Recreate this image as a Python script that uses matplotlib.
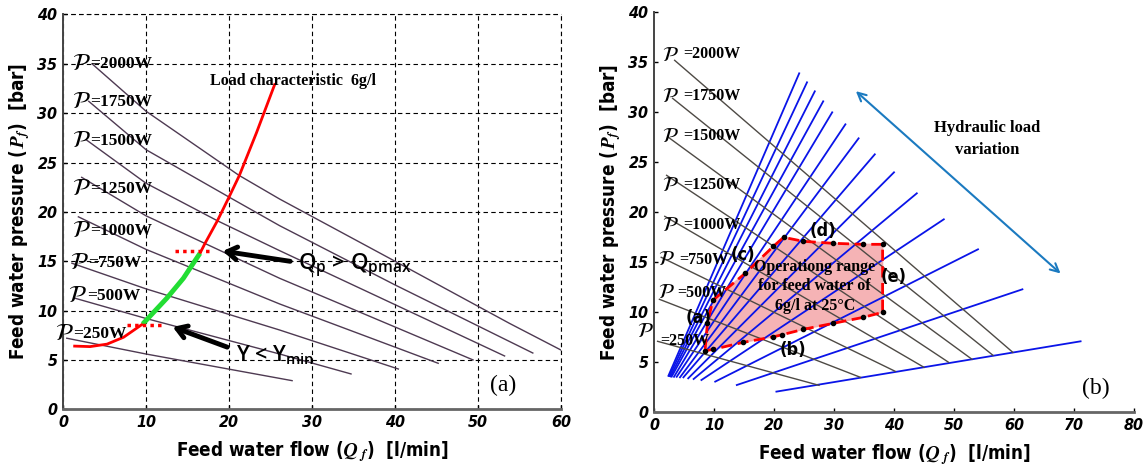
import matplotlib
matplotlib.use('Agg')
import matplotlib.pyplot as plt
from matplotlib import font_manager

# fonts
names = {f.name for f in font_manager.fontManager.ttflist}
narrow = 'Liberation Sans Narrow' if 'Liberation Sans Narrow' in names else 'DejaVu Sans'
serif = 'Liberation Serif'
plt.rcParams['mathtext.fontset'] = 'stixsans'

# ---------------- data, panel (a) ----------------
power_names = ['2000W', '1750W', '1500W', '1250W', '1000W', '750W', '500W', '250W']

# constant power curves
pa_x = [
    [3.5, 10, 21.2, 26.1, 40, 53.8, 60],
    [3.1, 10, 20, 26.1, 40, 56.6],
    [2.8, 10, 18.6, 26.1, 40, 53.2],
    [2.25, 10, 17.1, 26.1, 49.4],
    [1.85, 10, 26.1, 45.2],
    [1.07, 10, 26.1, 40.4],
    [1.45, 10, 26.1, 34.7],
    [0.45, 10, 27.6],
]
pa_y = [
    [35.0, 30.2, 23.7, 21.3, 15.0, 8.7, 6.0],
    [31.2, 26.3, 21.5, 18.6, 12.6, 5.7],
    [27.3, 22.9, 19.1, 16.07, 10.6, 5.4],
    [23.5, 19.6, 16.8, 13.27, 5.0],
    [19.5, 16.2, 10.67, 4.66],
    [14.8, 12.2, 8.03, 4.08],
    [11.25, 9.2, 5.6, 3.58],
    [7.2, 5.6, 2.9],
]
# label positions (x, y) for panel (a)
la_x = [1.05, 1.05, 1.05, 1.05, 1.05, 0.85, 0.65, -1.0]
la_y = [35.05, 31.2, 27.3, 22.4, 18.2, 14.95, 11.6, 7.7]

# load characteristic 6 g/l
load_x = [1.4, 3.25, 5.3, 7.3, 9.6, 11, 12.5, 14.5, 15.7, 16.5, 17.1, 18.6, 20, 21.25, 23.3, 25.5]
load_y = [6.4, 6.35, 6.6, 7.3, 8.64, 9.9, 11.25, 13.27, 14.8, 15.8, 16.8, 19.1, 21.5, 23.7, 28.0, 32.9]
ok_x = [9.6, 11, 12.5, 14.5, 15.7, 16.5]
ok_y = [8.64, 9.9, 11.25, 13.27, 14.8, 15.8]

qmax_x, qmax_y = [13.5, 18.1], [16.04, 16.04]
ymin_x, ymin_y = [7.7, 12.1], [8.54, 8.54]

# ---------------- data, panel (b) ----------------
pb_x = [[3.44, 59.8], [3.1, 56.5], [2.4, 53.0], [2.1, 49.1],
        [1.8, 45.0], [1.2, 40.2], [0.9, 34.4], [0.6, 27.5]]
pb_y = [[35.2, 6.0], [31.4, 5.7], [27.5, 5.3], [23.7, 5.0],
        [19.6, 4.5], [15.5, 4.1], [11.3, 3.5], [7.1, 2.7]]
lb_px = [1.3, 1.3, 1.3, 1.3, 1.3, 0.7, 0.7, -2.8]
lb_py = [35.7, 31.6, 27.6, 22.7, 18.7, 15.3, 12.0, 8.1]
lb_tx = [4.8, 4.8, 4.8, 4.8, 4.8, 4.2, 3.9, 1.0]
lb_ty = [35.8, 31.6, 27.6, 22.7, 18.7, 15.2, 11.9, 7.1]

# hydraulic load lines (blue)
hl_x0 = [2.4, 2.56, 2.75, 2.94, 3.33, 3.78, 4.33, 4.9, 5.7, 6.6, 7.9, 10.2, 13.8, 20.4]
hl_y0 = [3.65, 3.63, 3.6, 3.57, 3.55, 3.55, 3.5, 3.5, 3.4, 3.33, 3.23, 3.07, 2.73, 2.07]
hl_x1 = [24.2, 25.5, 26.8, 28.2, 29.7, 31.9, 34.1, 36.8, 40.0, 43.8, 48.3, 54.0, 61.4, 71.1]
hl_y1 = [33.9, 33.0, 32.1, 31.1, 30.0, 28.8, 27.4, 25.8, 24.0, 21.9, 19.3, 16.3, 12.3, 7.1]

# operating range polygon
op_x = [8.5, 9.9, 14.9, 19.9, 21.3, 24.9, 29.9, 34.9, 38.1, 38.1, 34.9, 29.9, 24.9, 21.6, 19.9, 15.2, 9.8, 8.9]
op_y = [6.15, 6.3, 7.0, 7.55, 7.75, 8.3, 8.9, 9.5, 10.0, 16.8, 16.8, 16.9, 17.1, 17.5, 16.6, 13.9, 11.2, 8.9]

corner_names = ['(a)', '(b)', '(c)', '(d)', '(e)']
corner_x = [7.4, 23.2, 14.9, 28.2, 39.9]
corner_y = [9.4, 6.2, 15.7, 18.1, 13.5]

fig = plt.figure(figsize=(11.48, 4.67), dpi=100)
ax1 = fig.add_axes([0.0549, 0.1236, 0.4338, 0.8454])
ax2 = fig.add_axes([0.5697, 0.1171, 0.4181, 0.8565])

tick_font = dict(family=[narrow, 'DejaVu Sans'], weight='bold', style='italic', size=11.5,
                 stretch='condensed')
label_font = dict(family=[narrow, 'DejaVu Sans'], weight='bold', size=13.5, stretch='condensed')


def style_axes(ax, xmax):
    ax.set_xlim(0, xmax)
    ax.set_ylim(0, 40)
    ax.set_xticks(range(0, xmax + 1, 10))
    ax.set_yticks(range(0, 41, 5))
    for s in ['top', 'right']:
        ax.spines[s].set_visible(False)
    ax.spines['left'].set_color('#444444')
    ax.spines['left'].set_linewidth(1.4)
    ax.spines['bottom'].set_color('#666666')
    ax.spines['bottom'].set_linewidth(2.0)
    ax.tick_params(direction='in', length=3, width=1, pad=4)
    for t in ax.get_xticklabels() + ax.get_yticklabels():
        t.set_fontproperties(font_manager.FontProperties(**tick_font))
    ax.set_xlabel(r'Feed water flow ($\mathbfit{Q_f}$)  [l/min]', labelpad=7, **label_font)
    ax.set_ylabel(r'Feed water pressure ($\mathbfit{P_f}$)  [bar]', labelpad=4, **label_font)


# ---------------- panel (a) ----------------
style_axes(ax1, 60)
ax1.grid(True, linestyle=(0, (4, 3)), color='black', linewidth=0.8)
ax1.axhline(40, linestyle=(0, (4, 3)), color='black', linewidth=0.8, clip_on=False)
ax1.axvline(60, linestyle=(0, (4, 3)), color='black', linewidth=0.8, clip_on=False)

for xs, ys in zip(pa_x, pa_y):
    ax1.plot(xs, ys, color='#4e3a52', lw=1.0)
for name, x, y in zip(power_names, la_x, la_y):
    ax1.text(x, y, r'$\mathcal{P}$', size=17, va='center', ha='left', clip_on=False)
    ax1.text(x + 2.2, y - 0.1, '=' + name, family=serif, weight='bold', size=12.5,
             va='center', ha='left')

ax1.plot(load_x, load_y, color='red', lw=2)
ax1.plot(ok_x, ok_y, color='#22dd33', lw=3.5, solid_capstyle='butt')
ax1.plot(qmax_x, qmax_y, color='red', lw=2.5, linestyle=(0, (1, 1.2)))
ax1.plot(ymin_x, ymin_y, color='red', lw=2.5, linestyle=(0, (1, 1.2)))

ax1.text(17.7, 33.3, 'Load characteristic  6g/l', family=serif, weight='bold', size=11.5, va='center')
ax1.annotate('', xy=(18.9, 16.07), xytext=(27.7, 14.95),
             arrowprops=dict(arrowstyle='->,head_length=0.7,head_width=0.45', lw=3.5, color='black'))
ax1.text(28.3, 14.6, r'Q$_\mathregular{p}$ > Q$_\mathregular{pmax}$', size=16, va='center',
         family='Open Sans', weight='semibold')
ax1.annotate('', xy=(12.9, 8.44), xytext=(20.1, 6.2),
             arrowprops=dict(arrowstyle='->,head_length=0.7,head_width=0.45', lw=3.5, color='black'))
ax1.text(20.8, 5.5, r'Y < Y$_\mathregular{min}$', size=15.5, va='center', family='Open Sans',
         weight='semibold')
ax1.text(53.0, 2.4, '(a)', family=serif, size=17, ha='center', va='center')

# ---------------- panel (b) ----------------
style_axes(ax2, 80)
for x0, y0, x1, y1 in zip(hl_x0, hl_y0, hl_x1, hl_y1):
    ax2.plot([x0, x1], [y0, y1], color='#0a14e8', lw=1.3)
for xs, ys in zip(pb_x, pb_y):
    ax2.plot(xs, ys, color='#4e4a45', lw=1.0)

ax2.fill(op_x, op_y, color='#f4a6a8', alpha=0.85, zorder=1)
ax2.plot(op_x + op_x[:1], op_y + op_y[:1], color='red', lw=2, linestyle=(0, (4, 2)))
ax2.plot(op_x, op_y, 'o', color='black', ms=3)

for name, px, py, tx, ty in zip(power_names, lb_px, lb_py, lb_tx, lb_ty):
    ax2.text(px, py, r'$\mathcal{P}$', size=15, va='center', ha='left', clip_on=False)
    ax2.text(tx, ty, '=' + name, family=serif, weight='bold', size=11.5, va='center', ha='left')

for name, x, y in zip(corner_names, corner_x, corner_y):
    ax2.text(x, y, name, family=[narrow, 'DejaVu Sans'], weight='bold', size=13, ha='center',
             va='center', stretch='condensed')

ax2.text(26.8, 12.6, 'Operationg range\nfor feed water of\n6g/l at 25\u00b0C', family=serif,
         weight='bold', size=11.5, ha='center', va='center', linespacing=1.3)
ax2.annotate('', xy=(33.3, 32.3), xytext=(68.1, 13.7),
             arrowprops=dict(arrowstyle='<->,head_length=0.6,head_width=0.3', lw=1.5, color='#1b7ac0'))
ax2.text(55.6, 27.3, 'Hydraulic load\nvariation', family=serif, weight='bold', size=12,
         ha='center', va='center', linespacing=1.5)
ax2.text(73.7, 2.4, '(b)', family=serif, size=17, ha='center', va='center')

plt.savefig('out.png', dpi=100)
